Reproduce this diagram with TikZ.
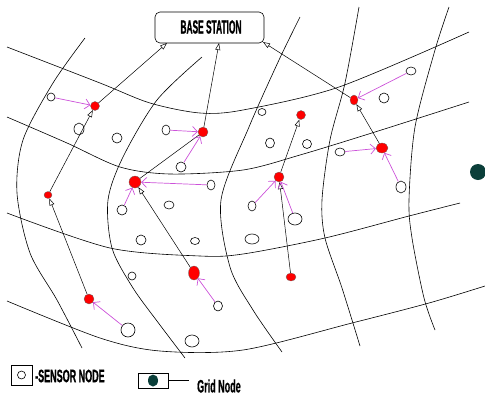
\documentclass[tikz,border=0pt]{standalone}
\usepackage{fontspec}
\usetikzlibrary{shapes.geometric,arrows.meta}
\newfontfamily\condfont{Liberation Sans}[FakeStretch=0.5,FakeBold=0.8]
\newfontfamily\narrowfont{Liberation Sans}[FakeStretch=0.44,FakeBold=0.8]
\definecolor{mag}{rgb}{0.80,0.32,0.85}
\definecolor{gridcol}{HTML}{0B3F3A}
\begin{document}
\begin{tikzpicture}[x=1pt,y=-1pt,
  gline/.style={line width=0.6pt},
  sz/.style 2 args={minimum width=#1, minimum height=#2},
  sensor/.style={ellipse, draw, line width=0.6pt, fill=white, inner sep=0pt},
  chead/.style={ellipse, draw=black!60, line width=0.3pt, fill=red, inner sep=0pt},
  link/.style={line width=0.5pt, -{Triangle[open,length=7pt,width=5pt]}},
  plainlink/.style={line width=0.5pt},
  member/.style={draw=mag, line width=0.7pt, -{Straight Barb[length=5pt,width=10pt]}},
  lbl/.style={inner sep=0pt}
]
\useasboundingbox (0,0) rectangle (485,397);
% grid lines
\draw[gline] plot[smooth] coordinates {(7,47) (100,83) (150,103) (200,113) (243,110) (339,87) (469,32)};
\draw[gline] plot[smooth] coordinates {(7,117) (67,143) (120,167) (170,174) (243,170) (300,155) (375,132) (469,102)};
\draw[gline] plot[smooth] coordinates {(7,213) (110,248) (200,256) (243,254) (325,238) (409,216) (460,203)};
\draw[gline] plot[smooth] coordinates {(7,301) (100,338) (160,351) (243,350) (352,323) (429,303) (485,286)};
\draw[gline] plot[smooth] coordinates {(85,38) (53,83) (23,140) (17,193) (30,253) (57,300) (82,348)};
\draw[gline] plot[smooth] coordinates {(202,57) (157,100) (123,157) (108,200) (112,248) (133,288) (160,325) (185,358)};
\draw[gline] plot[smooth] coordinates {(300,17) (279,60) (249,127) (221,200) (230,267) (253,310) (282,352)};
\draw[gline] plot[smooth] coordinates {(359,7) (345,83) (330,140) (322,200) (325,238) (342,288) (360,346)};
\draw[gline] plot[smooth] coordinates {(449,7) (435,50) (415,127) (409,200) (412,238) (424,298) (435,330)};
% base station
\node[draw, rounded corners=5pt, line width=0.6pt, fill=white, minimum width=109pt, minimum height=31pt, inner sep=0pt] (base) at (209.5,27.5) {};
\node[lbl, font=\narrowfont\bfseries\fontsize{19}{20}\selectfont] (basetxt) at (211,27) {BASE STATION};
\coordinate (b1) at (167,43);
\coordinate (b2) at (219,43);
\coordinate (b3) at (263,42);
% sensor nodes
\node[sensor, sz={8pt}{8pt}] (s1) at (51,97) {};
\node[sensor, sz={10pt}{12pt}] (s2) at (79,129) {};
\node[sensor, sz={10pt}{10pt}] (s3) at (117,138) {};
\node[sensor, sz={8pt}{10pt}] (s4) at (166,130) {};
\node[sensor, sz={10pt}{10pt}] (s5) at (181,167) {};
\node[sensor, sz={8pt}{10pt}] (s6) at (211,185) {};
\node[sensor, sz={10pt}{10pt}] (s7) at (122,210) {};
\node[sensor, sz={10pt}{8pt}] (s8) at (169,205) {};
\node[sensor, sz={10pt}{10pt}] (s9) at (141,240) {};
\node[sensor, sz={9pt}{7pt}] (s10) at (195,241) {};
\node[sensor, sz={8pt}{8pt}] (s11) at (132,276) {};
\node[sensor, sz={9pt}{10pt}] (s12) at (218,306) {};
\node[sensor, sz={14pt}{14pt}] (s13) at (128,330) {};
\node[sensor, sz={14pt}{12pt}] (s14) at (192,341) {};
\node[sensor, sz={8pt}{7pt}] (s15) at (262,112) {};
\node[sensor, sz={9pt}{10pt}] (s16) at (270,143) {};
\node[sensor, sz={9pt}{9pt}] (s17) at (307,144) {};
\node[sensor, sz={8pt}{10pt}] (s18) at (252,206) {};
\node[sensor, sz={14pt}{12pt}] (s19) at (295,219) {};
\node[sensor, sz={14pt}{10pt}] (s20) at (252,239) {};
\node[sensor, sz={10pt}{8pt}] (s21) at (411,71) {};
\node[sensor, sz={10pt}{10pt}] (s22) at (384,98) {};
\node[sensor, sz={10pt}{8pt}] (s23) at (340,152) {};
\node[sensor, sz={10pt}{12pt}] (s24) at (401,187) {};
% cluster heads
\node[chead, sz={9pt}{9pt}] (r1) at (95,106) {};
\node[chead, sz={8pt}{7pt}] (r2) at (48,195) {};
\node[chead, sz={10pt}{10pt}] (r3) at (89,299) {};
\node[chead, sz={10pt}{10pt}] (r4) at (203,132) {};
\node[chead, sz={12pt}{12pt}] (r5) at (135,182) {};
\node[chead, sz={11pt}{14pt}] (r6) at (194,273) {};
\node[chead, sz={9pt}{9pt}] (r7) at (301,115) {};
\node[chead, sz={10pt}{10pt}] (r8) at (279,177) {};
\node[chead, sz={10pt}{8pt}] (r9) at (291,277) {};
\node[chead, sz={8pt}{10pt}] (r10) at (354,100) {};
\node[chead, sz={12pt}{10pt}] (r11) at (382,148) {};
% grid node
\node[ellipse, fill=gridcol, inner sep=0pt, sz={16pt}{16pt}] (g) at (478,172) {};
% black links
\draw[link] (r1) -- (b1);
\draw[link] (r2) -- (r1);
\draw[link] (r3) -- (r2);
\draw[plainlink] (r5) -- (r4);
\draw[link] (r4) -- (b2);
\draw[link] (r6) -- (r5);
\draw[link] (r10) -- (b3);
\draw[link] (r11) -- (r10);
\draw[link] (r8) -- (r7);
\draw[link] (r9) -- (r8);
% member links
\draw[member] (s1) -- (r1);
\draw[member] (s4) -- (r4);
\draw[member] (s5) -- (r4);
\draw[member] (s6) -- (r5);
\draw[member] (s7) -- (r5);
\draw[member] (s12) -- (r6);
\draw[member] (s13) -- (r3);
\draw[member] (s18) -- (r8);
\draw[member] (s19) -- (r8);
\draw[member] (s21) -- (r10);
\draw[member] (s23) -- (r11);
\draw[member] (s24) -- (r11);
% legend
\node[draw, line width=0.6pt, minimum width=21pt, minimum height=20pt, inner sep=0pt] (lbox1) at (21.5,375) {};
\node[sensor, sz={8pt}{8pt}] (lsens) at (lbox1.center) {};
\node[lbl, anchor=west, font=\condfont\bfseries\fontsize{18}{20}\selectfont] (ltxt1) at (35,376) {-SENSOR NODE};
\node[draw, line width=0.6pt, minimum width=30pt, minimum height=15pt, inner sep=0pt] (lbox2) at (153,380.5) {};
\node[ellipse, fill=gridcol, inner sep=0pt, sz={10pt}{12pt}] (lgrid) at (lbox2.center) {};
\coordinate (lend) at (189,380.5);
\draw[line width=0.6pt] (lbox2.east) -- (lend);
\node[lbl, anchor=west, font=\condfont\bfseries\fontsize{18}{20}\selectfont] (ltxt2) at (197,386) {Grid Node};
\end{tikzpicture}
\end{document}
